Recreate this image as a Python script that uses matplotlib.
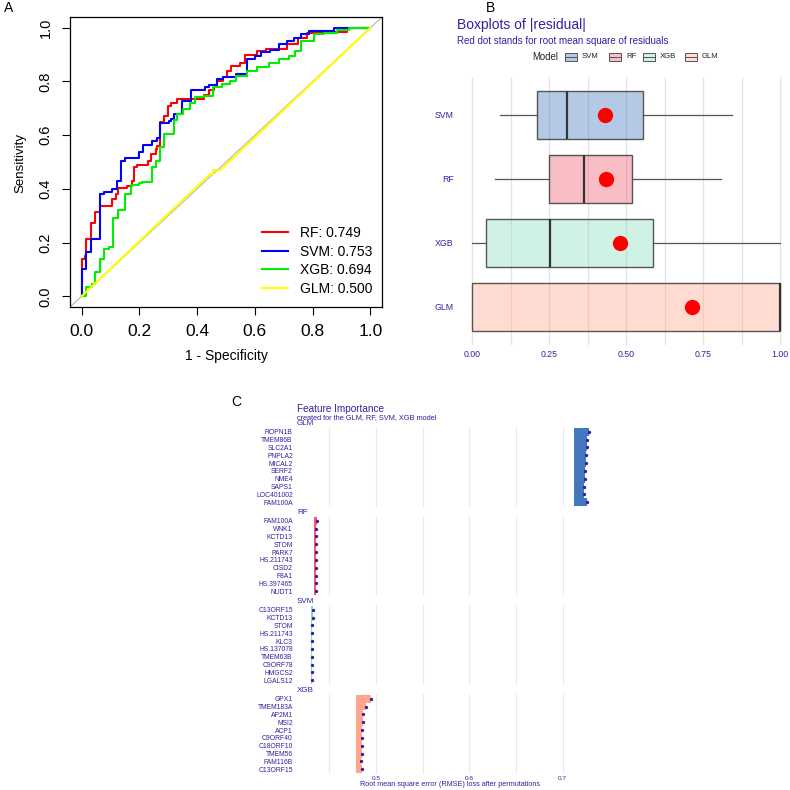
import matplotlib
matplotlib.use("Agg")
import matplotlib.pyplot as plt
from matplotlib.patches import Rectangle
import numpy as np

plt.rcParams["font.family"] = ["Liberation Sans", "DejaVu Sans"]

# ---- panel A: ROC curves (points after each vertical jump) ----
rf_fpr = [0.000, 0.000, 0.012, 0.017, 0.031, 0.048, 0.064, 0.107, 0.118, 0.126,
          0.158, 0.175, 0.182, 0.193, 0.230, 0.240, 0.256, 0.262, 0.273, 0.285,
          0.300, 0.310, 0.330, 0.423, 0.440, 0.460, 0.470, 0.490, 0.505, 0.516,
          0.550, 0.565, 0.608, 0.640, 0.712, 0.750, 0.780, 0.830, 0.920, 1.000]
rf_tpr = [0.000, 0.139, 0.151, 0.215, 0.272, 0.315, 0.338, 0.362, 0.380, 0.405,
          0.412, 0.430, 0.480, 0.487, 0.505, 0.530, 0.550, 0.560, 0.650, 0.670,
          0.710, 0.720, 0.735, 0.748, 0.770, 0.780, 0.800, 0.815, 0.840, 0.858,
          0.870, 0.900, 0.914, 0.920, 0.938, 0.960, 0.980, 0.985, 1.000, 1.000]
svm_fpr = [0.000, 0.000, 0.017, 0.031, 0.063, 0.077, 0.106, 0.121, 0.135, 0.152,
           0.198, 0.213, 0.245, 0.260, 0.271, 0.302, 0.310, 0.320, 0.348, 0.380,
           0.426, 0.440, 0.470, 0.490, 0.533, 0.573, 0.602, 0.620, 0.654, 0.683,
           0.712, 0.735, 0.758, 0.787, 0.873, 1.000]
svm_tpr = [0.000, 0.100, 0.164, 0.215, 0.380, 0.387, 0.400, 0.430, 0.505, 0.515,
           0.537, 0.563, 0.578, 0.588, 0.645, 0.652, 0.660, 0.678, 0.728, 0.770,
           0.780, 0.786, 0.810, 0.818, 0.826, 0.885, 0.895, 0.910, 0.918, 0.940,
           0.950, 0.960, 0.975, 0.988, 1.000, 1.000]
xgb_fpr = [0.000, 0.017, 0.037, 0.048, 0.063, 0.077, 0.095, 0.110, 0.126, 0.152,
           0.170, 0.198, 0.210, 0.245, 0.256, 0.271, 0.287, 0.320, 0.330, 0.352,
           0.377, 0.391, 0.423, 0.455, 0.487, 0.515, 0.533, 0.573, 0.608, 0.648,
           0.683, 0.717, 0.740, 0.758, 0.804, 0.839, 0.885, 0.925, 1.000]
xgb_tpr = [0.000, 0.034, 0.045, 0.090, 0.140, 0.175, 0.185, 0.290, 0.322, 0.380,
           0.415, 0.420, 0.425, 0.480, 0.505, 0.555, 0.603, 0.655, 0.680, 0.697,
           0.718, 0.742, 0.745, 0.780, 0.790, 0.803, 0.820, 0.838, 0.852, 0.867,
           0.883, 0.895, 0.914, 0.950, 0.975, 0.980, 0.990, 1.000, 1.000]
glm_fpr = [0.000, 0.445, 0.455, 0.455, 0.480, 1.000]
glm_tpr = [0.000, 0.455, 0.455, 0.470, 0.470, 1.000]
auc_labels = ["RF: 0.749", "SVM: 0.753", "XGB: 0.694", "GLM: 0.500"]

# ---- panel B: |residual| boxplots ----
models = ["SVM", "RF", "XGB", "GLM"]
res_whislo = [0.091, 0.075, 0.000, 0.000]
res_q1 = [0.210, 0.249, 0.045, 0.000]
res_med = [0.307, 0.363, 0.253, 1.000]
res_q3 = [0.555, 0.519, 0.588, 1.000]
res_whishi = [0.845, 0.808, 1.000, 1.000]
res_rmse = [0.432, 0.435, 0.480, 0.714]

# ---- panel C: permutation feature importance ----
glm_vars = ["ROPN1B", "TMEM86B", "SLC2A1", "PNPLA2", "MICAL2", "SERF2", "NME4",
            "SAPS1", "LOC401002", "FAM100A"]
glm_loss = [0.7280, 0.7265, 0.7260, 0.7255, 0.7250, 0.7245, 0.7240, 0.7235, 0.7230, 0.7265]
glm_base = 0.7128
rf_vars = ["FAM100A", "WNK1", "KCTD13", "STOM", "PARK7", "HS.211743", "CISD2",
           "F8A1", "HS.397465", "NUDT1"]
rf_loss = [0.4366, 0.4363, 0.4362, 0.4362, 0.4362, 0.4362, 0.4361, 0.4361, 0.4361, 0.4361]
rf_base = 0.4338
svm_vars = ["C13ORF15", "KCTD13", "STOM", "HS.211743", "KLC3", "HS.137078",
            "TMEM63B", "C9ORF78", "HMGCS2", "LGALS12"]
svm_loss = [0.4322, 0.4326, 0.4321, 0.4319, 0.4319, 0.4319, 0.4318, 0.4318, 0.4318, 0.4318]
svm_base = 0.4306
xgb_vars = ["GPX1", "TMEM183A", "AP2M1", "MSI2", "ACP1", "C9ORF40", "C18ORF10",
            "TMEM56", "FAM116B", "C13ORF15"]
xgb_loss = [0.4947, 0.4893, 0.4865, 0.4858, 0.4854, 0.4850, 0.4850, 0.4847, 0.4843, 0.4854]
xgb_base = 0.4786

dalex_txt = "#371ea3"
dalex_cols = ["#4378bf", "#f05a71", "#8bdcbe", "#ffa58c"]

W = 790


def px_box(l, t, r, b):
    return [l / W, 1 - b / W, (r - l) / W, (b - t) / W]


def fxy(x, y):
    return x / W, 1 - y / W


fig = plt.figure(figsize=(7.9, 7.9), dpi=100)

# ================= A =================
axA = fig.add_axes(px_box(70, 17, 382, 307))
axA.axline((0, 0), (1, 1), color="#b5b5b5", lw=0.8, zorder=1)
axA.plot(rf_fpr, rf_tpr, drawstyle="steps-post", color="#ff0000", lw=1.5, label=auc_labels[0])
axA.plot(svm_fpr, svm_tpr, drawstyle="steps-post", color="#0000ff", lw=1.5, label=auc_labels[1])
axA.plot(xgb_fpr, xgb_tpr, drawstyle="steps-post", color="#00ee00", lw=1.5, label=auc_labels[2])
axA.plot(glm_fpr, glm_tpr, color="#ffff00", lw=1.5, label=auc_labels[3])
axA.set_xlim(-0.04, 1.04)
axA.set_ylim(-0.04, 1.04)
ticks = np.arange(0, 1.01, 0.2)
axA.set_xticks(ticks, labels=[f"{t:.1f}" for t in ticks], fontsize=12.5)
axA.set_yticks(ticks, labels=[f"{t:.1f}" for t in ticks], fontsize=10.5,
               rotation=90, va="center")
axA.tick_params(direction="out", length=5.5, width=0.8, pad=7)
for s in axA.spines.values():
    s.set_linewidth(0.9)
axA.legend(loc="upper left", bbox_to_anchor=fxy(262, 226), bbox_transform=fig.transFigure,
           frameon=False, fontsize=10, handlelength=1.9, handletextpad=0.8,
           labelspacing=0.33, borderpad=0, borderaxespad=0)
fig.text(*fxy(20, 163), "Sensitivity", rotation=90, ha="center", va="center", fontsize=9.5)
fig.text(*fxy(226, 356), "1 - Specificity", ha="center", va="center", fontsize=10)
fig.text(*fxy(4, 8), "A", fontsize=10, va="center")

# ================= B =================
axB = fig.add_axes(px_box(470.5, 76.6, 781.5, 345.4))
for v in np.arange(0, 1.001, 0.125):
    axB.axvline(v, color="#e3e3e3", lw=0.9, zorder=0)
stats = []
for i, m in enumerate(models):
    stats.append(dict(med=res_med[i], q1=res_q1[i], q3=res_q3[i],
                      whislo=res_whislo[i], whishi=res_whishi[i], fliers=[], label=m))
bp = axB.bxp(stats, positions=range(len(models)), widths=0.75, orientation="horizontal",
             patch_artist=True, showcaps=False, showfliers=False,
             boxprops=dict(edgecolor="#555555", lw=1.0),
             whiskerprops=dict(color="#555555", lw=0.9),
             medianprops=dict(color="#333333", lw=1.6))
for patch, col in zip(bp["boxes"], dalex_cols):
    r, g, b = matplotlib.colors.to_rgb(col)
    patch.set_facecolor((r, g, b, 0.4))
axB.plot(res_rmse, range(len(models)), "o", color="#ff0000", ms=10, zorder=5)
axB.set_xlim(-0.006, 1.005)
axB.set_ylim(3.6, -0.6)
axB.set_xticks([0, 0.25, 0.5, 0.75, 1.0], labels=["0.00", "0.25", "0.50", "0.75", "1.00"])
axB.set_yticks(range(len(models)), labels=models)
axB.tick_params(length=0, labelsize=6.3, labelcolor=dalex_txt)
axB.tick_params(axis="x", pad=3)
axB.tick_params(axis="y", pad=12)
for s in axB.spines.values():
    s.set_visible(False)
fig.text(*fxy(457, 25), "Boxplots of |residual|", fontsize=10, color=dalex_txt, va="center")
fig.text(*fxy(457, 40.5), "Red dot stands for root mean square of residuals", fontsize=7,
         color=dalex_txt, va="center")
fig.text(*fxy(532, 57), "Model", fontsize=6.9, color="#222222", va="center")
key_x = [565, 609, 643, 685]
for kx, m, col in zip(key_x, models, dalex_cols):
    r, g, b = matplotlib.colors.to_rgb(col)
    fx, fy = fxy(kx, 61)
    fig.patches.append(Rectangle((fx, fy), 12 / W, 8 / W, transform=fig.transFigure,
                                 facecolor=(r, g, b, 0.4), edgecolor="#555555", lw=0.7))
    fig.lines.append(plt.Line2D([kx / W, (kx + 12) / W], [1 - 57 / W] * 2,
                                transform=fig.transFigure, color="#555555", lw=0.7))
    fig.text(*fxy(kx + 17, 57), m, fontsize=5.6, color="#222222", va="center")
fig.text(*fxy(486, 8), "B", fontsize=10, va="center")

# ================= C =================
panels = [("GLM", glm_vars, glm_loss, glm_base, 427),
          ("RF", rf_vars, rf_loss, rf_base, 516),
          ("SVM", svm_vars, svm_loss, svm_base, 605),
          ("XGB", xgb_vars, xgb_loss, xgb_base, 694)]
for k, (name, vars_, loss, base, top) in enumerate(panels):
    ax = fig.add_axes(px_box(297, top, 604.5, top + 80))
    for v in np.arange(0.45, 0.701, 0.05):
        ax.axvline(v, color="#ebebeb", lw=0.8, zorder=0)
    yy = np.arange(len(vars_))
    ax.barh(yy, np.array(loss) - base, left=base, height=1.0,
            color=dalex_cols[k], lw=0, zorder=2)
    ax.plot(loss, yy, "o", color=dalex_txt, ms=1.4, zorder=3)
    ax.set_xlim(0.4155, 0.745)
    ax.set_ylim(len(vars_) - 0.4, -0.6)
    ax.set_yticks(yy, labels=vars_)
    ax.tick_params(length=0, labelsize=4.9, labelcolor=dalex_txt, pad=3)
    if k == len(panels) - 1:
        ax.set_xticks([0.5, 0.6, 0.7], labels=["0.5", "0.6", "0.7"])
        ax.tick_params(axis="x", pad=1.5, labelsize=4.6)
    else:
        ax.set_xticks([])
    for s in ax.spines.values():
        s.set_visible(False)
    fig.text(*fxy(297, top - 2), name, fontsize=5.8, color=dalex_txt, va="baseline")

fig.text(*fxy(297, 412), "Feature Importance", fontsize=7.2, color=dalex_txt, va="baseline")
fig.text(*fxy(297, 419.5), "created for the GLM, RF, SVM, XGB model", fontsize=5.3,
         color=dalex_txt, va="baseline")
fig.text(*fxy(450, 785), "Root mean square error (RMSE) loss after permutations",
         fontsize=5.2, color=dalex_txt, ha="center", va="center")
fig.text(*fxy(231, 402), "C", fontsize=10, va="center")

fig.savefig("out.png", dpi=100)
